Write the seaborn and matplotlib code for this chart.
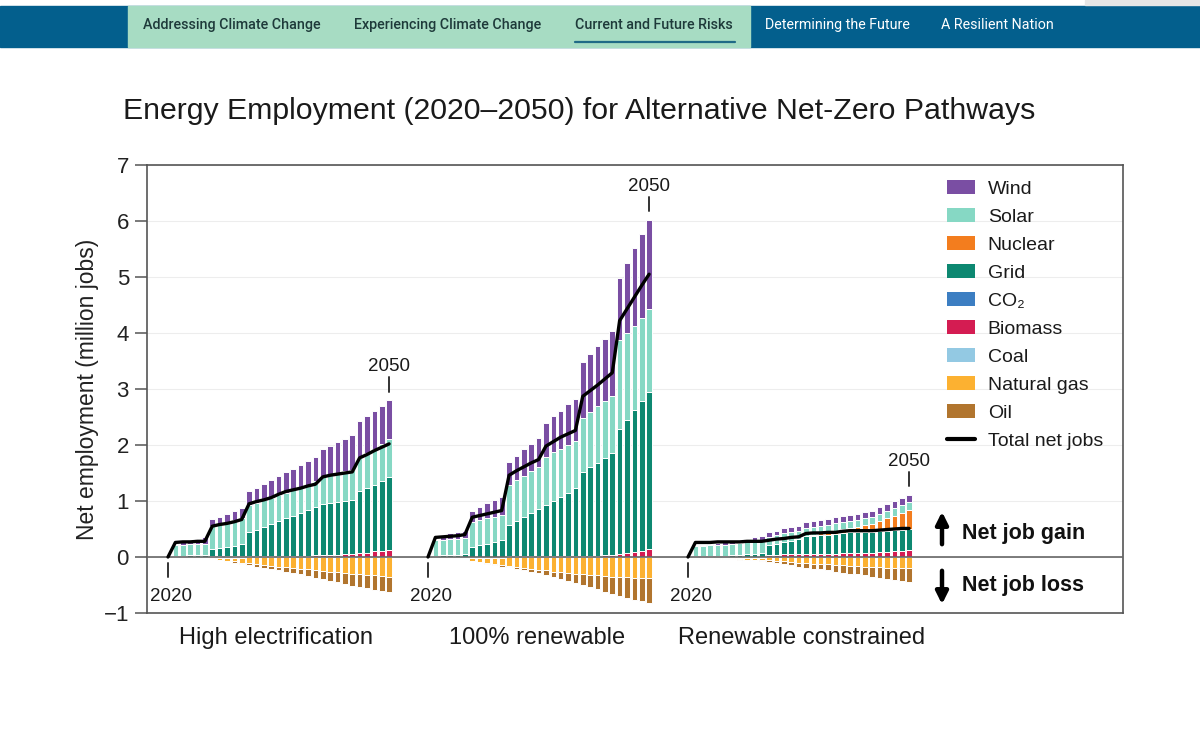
import numpy as np
import pandas as pd
import matplotlib
matplotlib.use("Agg")
import matplotlib.pyplot as plt
import seaborn as sns
from matplotlib.patches import Patch, Rectangle
from matplotlib.lines import Line2D

# ---------------- data (million jobs), years 2021..2050 ----------------
years = list(range(2021, 2051))
scenarios = ["High electrification", "100% renewable", "Renewable constrained"]

# High electrification
wind_he = [0.01, 0.06, 0.08, 0.10, 0.13, 0.12, 0.13, 0.14, 0.16, 0.175,
           0.24, 0.27, 0.28, 0.31, 0.33, 0.36, 0.38, 0.41, 0.43, 0.44,
           0.49, 0.52, 0.55, 0.58, 0.61, 0.65, 0.66, 0.67, 0.69, 0.70]
solar_he = [0.20, 0.195, 0.20, 0.195, 0.19, 0.41, 0.43, 0.45, 0.46, 0.47,
            0.49, 0.48, 0.48, 0.47, 0.47, 0.46, 0.46, 0.45, 0.45, 0.45,
            0.49, 0.50, 0.51, 0.53, 0.54, 0.60, 0.62, 0.64, 0.66, 0.68]
nuclear_he = [0.0] * 30
grid_he = [0.02, 0.025, 0.03, 0.035, 0.04, 0.13, 0.15, 0.17, 0.19, 0.22,
           0.43, 0.48, 0.53, 0.58, 0.63, 0.67, 0.72, 0.77, 0.82, 0.87,
           0.92, 0.93, 0.95, 0.95, 0.96, 1.10, 1.15, 1.19, 1.24, 1.29]
co2_he = [0.0] * 30
biomass_he = [0.00, 0.00, 0.00, 0.00, 0.00, 0.01, 0.01, 0.01, 0.01, 0.01,
              0.01, 0.01, 0.01, 0.01, 0.01, 0.02, 0.02, 0.02, 0.02, 0.03,
              0.03, 0.04, 0.04, 0.05, 0.06, 0.07, 0.08, 0.10, 0.11, 0.13]
coal_he = [0.01, 0.01, 0.01, 0.01, 0.01, 0.01, 0.01, 0.01, 0.01, 0.01,
           0.00, 0.00, 0.00, 0.00, 0.00, 0.00, 0.00, 0.00, 0.00, 0.00,
           0.00, 0.00, 0.00, 0.00, 0.00, 0.00, 0.00, 0.00, 0.00, 0.00]
gas_he = [0.00, 0.005, 0.01, 0.01, 0.015, 0.03, 0.04, 0.06, 0.07, 0.09,
          0.11, 0.13, 0.14, 0.16, 0.17, 0.18, 0.20, 0.21, 0.22, 0.24,
          0.25, 0.26, 0.27, 0.28, 0.30, 0.31, 0.32, 0.33, 0.34, 0.35]
oil_he = [0.00, 0.00, 0.00, 0.00, 0.00, 0.00, 0.01, 0.01, 0.02, 0.02,
          0.03, 0.04, 0.05, 0.06, 0.07, 0.08, 0.09, 0.10, 0.12, 0.14,
          0.15, 0.17, 0.18, 0.20, 0.21, 0.23, 0.24, 0.26, 0.27, 0.28]
total_he = [0.26, 0.27, 0.27, 0.28, 0.28, 0.55, 0.58, 0.60, 0.63, 0.67,
            0.95, 0.99, 1.02, 1.06, 1.12, 1.17, 1.20, 1.23, 1.27, 1.30,
            1.43, 1.46, 1.48, 1.50, 1.52, 1.77, 1.83, 1.90, 1.96, 2.02]

# 100% renewable
wind_re = [0.01, 0.07, 0.10, 0.12, 0.13, 0.20, 0.24, 0.27, 0.29, 0.32,
           0.41, 0.44, 0.48, 0.48, 0.51, 0.62, 0.64, 0.68, 0.73, 0.75,
           0.99, 1.04, 1.07, 1.12, 1.16, 1.11, 1.25, 1.38, 1.50, 1.59]
solar_re = [0.28, 0.28, 0.285, 0.29, 0.295, 0.45, 0.45, 0.45, 0.45, 0.45,
            0.72, 0.73, 0.74, 0.76, 0.76, 0.85, 0.87, 0.85, 0.85, 0.85,
            0.98, 0.99, 1.01, 1.01, 1.02, 1.59, 1.55, 1.51, 1.49, 1.48]
nuclear_re = [0.0] * 30
grid_re = [0.02, 0.03, 0.035, 0.04, 0.045, 0.175, 0.205, 0.235, 0.265, 0.295,
           0.56, 0.63, 0.70, 0.77, 0.84, 0.92, 0.99, 1.07, 1.14, 1.22,
           1.49, 1.58, 1.66, 1.74, 1.82, 2.24, 2.38, 2.53, 2.67, 2.81]
co2_re = [0.0] * 30
biomass_re = [0.00, 0.00, 0.00, 0.00, 0.00, 0.005, 0.005, 0.005, 0.005, 0.005,
              0.01, 0.01, 0.01, 0.01, 0.01, 0.01, 0.01, 0.01, 0.01, 0.01,
              0.02, 0.02, 0.02, 0.03, 0.04, 0.05, 0.07, 0.09, 0.11, 0.14]
coal_re = [0.01, 0.01, 0.01, 0.01, 0.01, 0.01, 0.01, 0.01, 0.01, 0.01,
           0.00, 0.00, 0.00, 0.00, 0.00, 0.00, 0.00, 0.00, 0.00, 0.00,
           0.00, 0.00, 0.00, 0.00, 0.00, 0.00, 0.00, 0.00, 0.00, 0.00]
gas_re = [0.00, 0.005, 0.01, 0.01, 0.015, 0.06, 0.08, 0.10, 0.12, 0.14,
          0.16, 0.18, 0.20, 0.21, 0.23, 0.24, 0.26, 0.27, 0.28, 0.30,
          0.31, 0.32, 0.33, 0.34, 0.35, 0.35, 0.36, 0.37, 0.37, 0.38]
oil_re = [0.00, 0.00, 0.00, 0.00, 0.00, 0.00, 0.005, 0.01, 0.01, 0.02,
          0.02, 0.03, 0.04, 0.05, 0.06, 0.08, 0.10, 0.12, 0.14, 0.16,
          0.19, 0.22, 0.25, 0.28, 0.31, 0.34, 0.37, 0.40, 0.42, 0.44]
total_re = [0.35, 0.36, 0.37, 0.38, 0.40, 0.71, 0.74, 0.77, 0.80, 0.83,
            1.46, 1.54, 1.61, 1.68, 1.74, 1.98, 2.06, 2.14, 2.20, 2.26,
            2.87, 2.97, 3.07, 3.18, 3.29, 4.22, 4.43, 4.64, 4.85, 5.05]

# Renewable constrained
wind_rc = [0.00, 0.01, 0.02, 0.03, 0.04, 0.05, 0.06, 0.07, 0.08, 0.09,
           0.08, 0.08, 0.09, 0.09, 0.09, 0.10, 0.10, 0.10, 0.10, 0.11,
           0.11, 0.11, 0.11, 0.12, 0.12, 0.12, 0.12, 0.13, 0.13, 0.13]
solar_rc = [0.19, 0.19, 0.20, 0.20, 0.20, 0.21, 0.21, 0.21, 0.21, 0.20,
            0.15, 0.15, 0.15, 0.15, 0.15, 0.14, 0.14, 0.14, 0.14, 0.14,
            0.12, 0.12, 0.12, 0.12, 0.12, 0.12, 0.13, 0.13, 0.14, 0.14]
nuclear_rc = [0.00, 0.00, 0.00, 0.00, 0.00, 0.00, 0.00, 0.00, 0.00, 0.00,
              0.00, 0.00, 0.00, 0.00, 0.00, 0.01, 0.02, 0.03, 0.04, 0.05,
              0.07, 0.08, 0.10, 0.12, 0.14, 0.19, 0.22, 0.26, 0.30, 0.34]
grid_rc = [0.01, 0.01, 0.015, 0.015, 0.02, 0.03, 0.04, 0.05, 0.06, 0.08,
           0.17, 0.20, 0.22, 0.24, 0.27, 0.32, 0.32, 0.33, 0.34, 0.35,
           0.36, 0.37, 0.37, 0.37, 0.37, 0.37, 0.38, 0.38, 0.38, 0.38]
co2_rc = [0.0] * 30
biomass_rc = [0.00, 0.00, 0.00, 0.00, 0.00, 0.00, 0.00, 0.00, 0.00, 0.00,
              0.04, 0.04, 0.05, 0.05, 0.05, 0.05, 0.06, 0.06, 0.06, 0.06,
              0.07, 0.07, 0.07, 0.08, 0.08, 0.09, 0.09, 0.10, 0.11, 0.12]
coal_rc = [0.01, 0.01, 0.01, 0.01, 0.01, 0.01, 0.01, 0.01, 0.01, 0.01,
           0.00, 0.00, 0.00, 0.00, 0.00, 0.00, 0.00, 0.00, 0.00, 0.00,
           0.00, 0.00, 0.00, 0.00, 0.00, 0.00, 0.00, 0.00, 0.00, 0.00]
gas_rc = [0.01, 0.01, 0.01, 0.02, 0.02, 0.03, 0.03, 0.04, 0.04, 0.05,
          0.06, 0.07, 0.08, 0.09, 0.10, 0.11, 0.12, 0.12, 0.13, 0.14,
          0.15, 0.16, 0.16, 0.17, 0.18, 0.18, 0.19, 0.19, 0.20, 0.20]
oil_rc = [0.00, 0.00, 0.00, 0.00, 0.00, 0.00, 0.005, 0.01, 0.01, 0.02,
          0.03, 0.04, 0.05, 0.06, 0.07, 0.08, 0.09, 0.10, 0.11, 0.12,
          0.13, 0.14, 0.15, 0.16, 0.17, 0.19, 0.20, 0.22, 0.23, 0.25]
total_rc = [0.26, 0.26, 0.26, 0.27, 0.27, 0.27, 0.27, 0.28, 0.28, 0.28,
            0.30, 0.32, 0.33, 0.35, 0.36, 0.42, 0.43, 0.43, 0.44, 0.44,
            0.46, 0.47, 0.47, 0.47, 0.47, 0.48, 0.49, 0.50, 0.51, 0.51]

sector_names = ["Wind", "Solar", "Nuclear", "Grid", "CO\u2082", "Biomass",
                "Coal", "Natural gas", "Oil"]
colors = {"Wind": "#7A4EA3", "Solar": "#86D8C4", "Nuclear": "#F37D1E",
          "Grid": "#0D8871", "CO\u2082": "#3C7EC2", "Biomass": "#D41C52",
          "Coal": "#93C9E3", "Natural gas": "#FCB131", "Oil": "#B1752E"}

panels = [
    {"pos": {"Biomass": biomass_he, "CO\u2082": co2_he, "Grid": grid_he,
             "Nuclear": nuclear_he, "Solar": solar_he, "Wind": wind_he},
     "neg": {"Coal": coal_he, "Natural gas": gas_he, "Oil": oil_he},
     "total": total_he},
    {"pos": {"Biomass": biomass_re, "CO\u2082": co2_re, "Grid": grid_re,
             "Nuclear": nuclear_re, "Solar": solar_re, "Wind": wind_re},
     "neg": {"Coal": coal_re, "Natural gas": gas_re, "Oil": oil_re},
     "total": total_re},
    {"pos": {"Biomass": biomass_rc, "CO\u2082": co2_rc, "Grid": grid_rc,
             "Nuclear": nuclear_rc, "Solar": solar_rc, "Wind": wind_rc},
     "neg": {"Coal": coal_rc, "Natural gas": gas_rc, "Oil": oil_rc},
     "total": total_rc},
]

# ---------------- styling ----------------
sns.set_theme(style="white")
plt.rcParams['font.family'] = ['Liberation Sans', 'DejaVu Sans']

W, H = 1200, 755
fig = plt.figure(figsize=(W / 100, H / 100), dpi=100)
fig.patch.set_facecolor("white")


def fx(x):
    return x / W


def fy(y):
    return 1 - y / H


# header navigation band
fig.add_artist(Rectangle((0, fy(47)), 1, (47 - 6) / H, transform=fig.transFigure,
                         color="#035F8D", zorder=0))
fig.add_artist(Rectangle((fx(128), fy(47)), (750 - 128) / W, (47 - 6) / H,
                         transform=fig.transFigure, color="#A7DCC3", zorder=1))
fig.add_artist(Rectangle((fx(1085), fy(5)), (1200 - 1085) / W, 5 / H,
                         transform=fig.transFigure, color="#E6E6E6", zorder=1))
nav = [("Addressing Climate Change", 143, "#1E3A3A", "medium"),
       ("Experiencing Climate Change", 354, "#1E3A3A", "medium"),
       ("Current and Future Risks", 575, "#1E3A3A", "medium"),
       ("Determining the Future", 765, "white", "normal"),
       ("A Resilient Nation", 941, "white", "normal")]
for txt, x, c, wgt in nav:
    fig.text(fx(x), fy(25), txt, fontsize=10.3, color=c, family=["Roboto", "DejaVu Sans"],
             fontweight=wgt, ha="left", va="center", zorder=3)
fig.add_artist(Line2D([fx(575), fx(735)], [fy(42), fy(42)], transform=fig.transFigure,
                      color="#1F6A86", lw=1.6, zorder=3))

# title
fig.text(fx(123), fy(111), "Energy Employment (2020\u20132050) for Alternative Net-Zero Pathways",
         fontsize=21.8, color="#1A1A1A", ha="left", va="center")

# main axes
ax = fig.add_axes([fx(147), fy(613), (1123 - 147) / W, (613 - 165) / H])
PX_PER_YEAR = 7.37
OFFSET = 35.28
ax.set_xlim((147 - 168) / PX_PER_YEAR, (1123 - 168) / PX_PER_YEAR)
ax.set_ylim(-1, 7)

bar_w = 0.76
for p, panel in enumerate(panels):
    xs = np.array([p * OFFSET + (y - 2020) for y in years])
    bottom = np.zeros(len(years))
    for name in ["Biomass", "CO\u2082", "Grid", "Nuclear", "Solar", "Wind"]:
        vals = np.array(panel["pos"][name])
        ax.bar(xs, vals, bottom=bottom, width=bar_w, color=colors[name],
               edgecolor="white", linewidth=0.7, zorder=2)
        bottom = bottom + vals
    top_last = bottom[-1]
    nbottom = np.zeros(len(years))
    for name in ["Coal", "Natural gas", "Oil"]:
        vals = -np.array(panel["neg"][name])
        ax.bar(xs, vals, bottom=nbottom, width=bar_w, color=colors[name],
               edgecolor="white", linewidth=0.7, zorder=2)
        nbottom = nbottom + vals
    # total net jobs line (starts at 0 in 2020)
    df = pd.DataFrame({"x": np.concatenate([[p * OFFSET], xs]),
                       "total": np.concatenate([[0.0], panel["total"]])})
    sns.lineplot(data=df, x="x", y="total", ax=ax, color="black", lw=2.4,
                 sort=False, estimator=None, legend=False, zorder=4)
    # 2020 and 2050 markers
    x0 = p * OFFSET
    ax.plot([x0, x0], [-0.1, -0.35], color="#333333", lw=1.4, zorder=4)
    ax.text(x0 + 0.4, -0.71, "2020", fontsize=13.5, ha="center", va="center", color="#1A1A1A")
    x1 = p * OFFSET + 30
    ax.plot([x1, x1], [top_last + 0.15, top_last + 0.41], color="#333333", lw=1.4, zorder=4)
    ax.text(x1, top_last + 0.60, "2050", fontsize=13.5, ha="center", va="center", color="#1A1A1A")

ax.axhline(0, color="#666666", lw=1.2, zorder=3)
ax.set_yticks(range(-1, 8))
ax.set_xticks([])
ax.yaxis.grid(True, color="#EDEDED", lw=0.8)
ax.set_axisbelow(True)
for s in ax.spines.values():
    s.set_color("#555555")
    s.set_linewidth(1.2)
ax.tick_params(axis="y", left=True, length=9, width=1.1, color="#555555",
               labelsize=16, pad=4, labelcolor="#222222")
ax.set_xlabel("")
ax.set_ylabel("")

fig.text(fx(88), fy(389), "Net employment (million jobs)", rotation=90, fontsize=16.5,
         ha="center", va="center", color="#222222")

for name, xc in zip(scenarios, [276, 537, 802]):
    fig.text(fx(xc), fy(638), name, fontsize=17, ha="center", va="center", color="#1A1A1A")

# legend
handles = [Patch(facecolor=colors[n], edgecolor="none", label=n) for n in sector_names]
handles.append(Line2D([0], [0], color="black", lw=3, label="Total net jobs"))
leg = ax.legend(handles=handles, loc="upper left", bbox_to_anchor=(fx(947), fy(180)),
                bbox_transform=fig.transFigure, frameon=False, fontsize=14,
                handlelength=1.45, handleheight=0.75, handletextpad=0.65,
                labelspacing=0.52, borderpad=0, borderaxespad=0)
for t in leg.get_texts():
    t.set_color("#1A1A1A")

# net job gain / loss
ax.annotate("", xy=(942, H - 509), xytext=(942, H - 547), xycoords="figure pixels",
            textcoords="figure pixels",
            arrowprops=dict(arrowstyle="-|>", lw=3.2, color="black", mutation_scale=18))
ax.annotate("", xy=(942, H - 607), xytext=(942, H - 568), xycoords="figure pixels",
            textcoords="figure pixels",
            arrowprops=dict(arrowstyle="-|>", lw=3.2, color="black", mutation_scale=18))
fig.text(fx(962), fy(534), "Net job gain", fontsize=15.5, fontweight="bold", ha="left",
         va="center", color="#111111")
fig.text(fx(962), fy(585), "Net job loss", fontsize=15.5, fontweight="bold", ha="left",
         va="center", color="#111111")

fig.savefig("out.png", dpi=100, facecolor="white")
